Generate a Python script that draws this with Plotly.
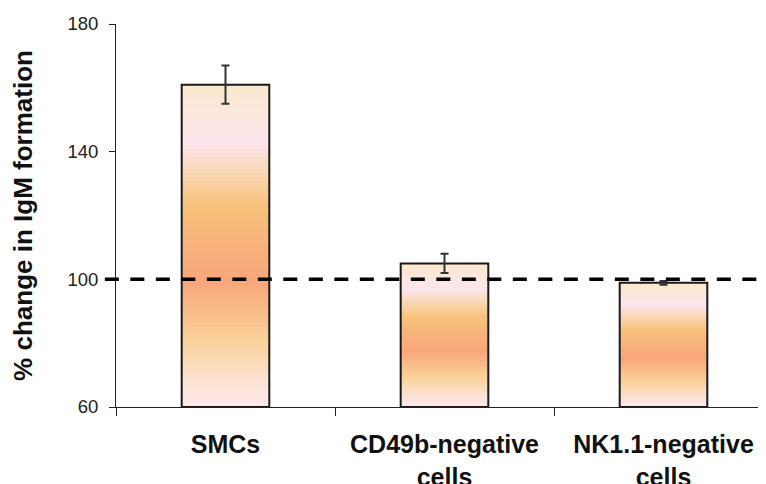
import plotly.graph_objects as go

categories = ["SMCs", "CD49b-negative<br>cells", "NK1.1-negative<br>cells"]
values = [161, 105, 98.9]
errors = [6, 3, 0.6]
baseline = 60
reference_level = 100
y_ticks = [60, 100, 140, 180]

# gradient stops: (fraction of bar height from bottom, rgb)
grad_stops = [
    (0.00, (253, 232, 236)),
    (0.08, (252, 226, 212)),
    (0.20, (250, 210, 155)),
    (0.39, (248, 166, 122)),
    (0.50, (248, 178, 124)),
    (0.62, (247, 193, 122)),
    (0.72, (249, 214, 176)),
    (0.82, (252, 229, 237)),
    (1.00, (251, 233, 204)),
]


def grad_color(t):
    for (t0, c0), (t1, c1) in zip(grad_stops[:-1], grad_stops[1:]):
        if t0 <= t <= t1:
            f = (t - t0) / (t1 - t0) if t1 > t0 else 0
            c = [round(a + (b - a) * f) for a, b in zip(c0, c1)]
            return f"rgb({c[0]},{c[1]},{c[2]})"
    c = grad_stops[-1][1]
    return f"rgb({c[0]},{c[1]},{c[2]})"


fig = go.Figure()
N = 80
heights = [v - baseline for v in values]
for i in range(N):
    frac = 1 - i / N
    fig.add_trace(go.Bar(
        x=categories, y=[h * frac for h in heights], base=[baseline] * 3,
        width=0.4, marker=dict(color=grad_color(frac - 0.5 / N), line=dict(width=0)),
        showlegend=False, hoverinfo="skip"))

fig.add_trace(go.Bar(
    x=categories, y=heights, base=[baseline] * 3, width=0.4,
    marker=dict(color="rgba(0,0,0,0)", line=dict(color="#1a1a1a", width=2)),
    showlegend=False))

fig.add_trace(go.Scatter(
    x=categories, y=values, mode="markers",
    marker=dict(size=1, color="rgba(0,0,0,0)"),
    error_y=dict(type="data", array=errors, color="#333333", thickness=2, width=4),
    showlegend=False))

fig.add_shape(type="line", xref="paper", yref="y", x0=-0.017, x1=1,
              y0=reference_level, y1=reference_level,
              line=dict(color="black", width=3.5, dash="14px,11.5px"), layer="above")

fig.update_layout(
    width=766, height=484,
    margin=dict(l=108, r=1, t=15.5, b=85, autoexpand=False),
    paper_bgcolor="white", plot_bgcolor="white",
    barmode="overlay",
    font=dict(family="Liberation Sans, Arial, sans-serif", color="#111111"),
    xaxis=dict(
        range=[-0.5, 2.5],
        automargin=False,
        showline=True, linecolor="#222222", linewidth=1,
        ticks="outside", tickson="boundaries", ticklen=8, tickcolor="#222222",
        tickfont=dict(size=25, family="Liberation Sans, Arial, sans-serif", weight="bold", color="#111111"),
        ticklabelstandoff=15,
        showgrid=False, zeroline=False,
    ),
    yaxis=dict(
        range=[60, 180], tickvals=y_ticks,
        automargin=False,
        showline=True, linecolor="#222222", linewidth=1,
        ticks="outside", ticklen=6, tickcolor="#222222",
        tickfont=dict(size=18.5, color="#222222"),
        ticklabelstandoff=7,
        showgrid=False, zeroline=False,
        title=dict(text="% change in IgM formation", standoff=27,
                   font=dict(size=26, weight="bold", color="#111111")),
    ),
)

fig.write_html("out.html")
